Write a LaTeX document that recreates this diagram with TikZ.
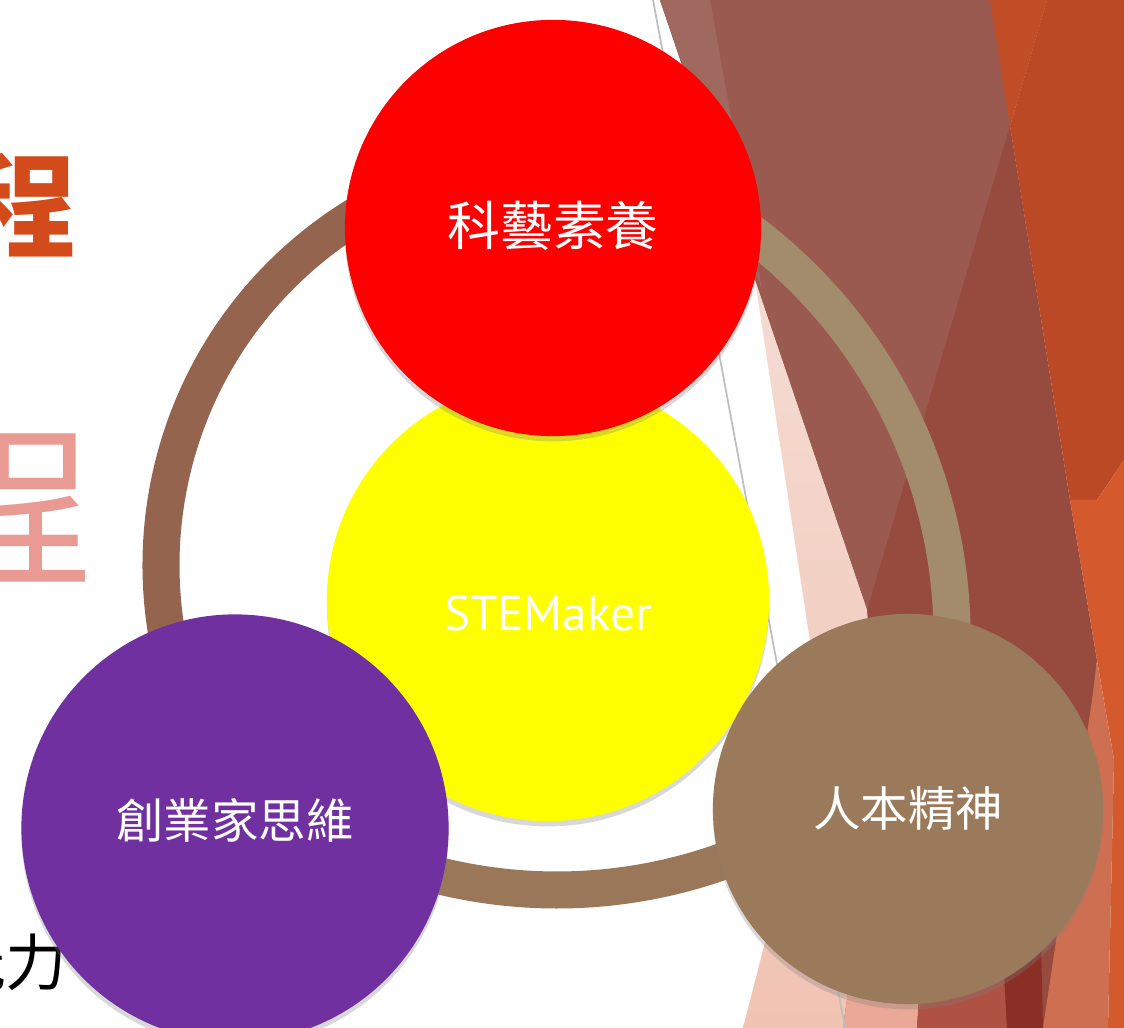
\documentclass[tikz,border=0pt]{standalone}
\usepackage{fontspec}
\setmainfont{PT Sans}
\newfontfamily\cjk{Noto Sans CJK TC}
\usetikzlibrary{shadows}

\definecolor{artsred}{HTML}{FF0000}
\definecolor{stemyellow}{HTML}{FFFF00}
\definecolor{venturepurple}{HTML}{7030A0}
\definecolor{humanebrown}{HTML}{9B795B}
\definecolor{ringleft}{HTML}{94644F}
\definecolor{ringright}{HTML}{A38C6B}
\definecolor{ringbottom}{HTML}{9A7759}
\definecolor{titleorange}{HTML}{D34A1B}
\definecolor{titlepink}{HTML}{E99A93}
\definecolor{facetmauve}{HTML}{9B5A4F}
\definecolor{facetmauvelt}{HTML}{A0695F}
\definecolor{facetmauvedk}{HTML}{964B3E}
\definecolor{facetorange}{HTML}{BB4925}
\definecolor{facetorangelt}{HTML}{C24E28}
\definecolor{facetorangebr}{HTML}{D45A2E}
\definecolor{facetsalmon}{HTML}{CE6F52}
\definecolor{facetpinktop}{HTML}{F5DBD2}
\definecolor{facetpinkbot}{HTML}{F1C3B3}
\definecolor{facetrose}{HTML}{EAA896}
\definecolor{facetbrick}{HTML}{AF5243}
\definecolor{facetdark}{HTML}{8A2F25}

\tikzset{
  bubble/.style={circle, inner sep=0pt, text=white,
    drop shadow={shadow xshift=0pt, shadow yshift=-1.5pt, opacity=.3}},
  ringarc/.style={line width=0.37cm},
  cjklabel/.style={font=\cjk\fontsize{13.5}{16}\selectfont},
}

\begin{document}
\begin{tikzpicture}[x=0.01cm, y=-0.01cm]
\useasboundingbox (0,0) rectangle (1124,1028);
\clip (0,0) rectangle (1124,1028);
\fill[white] (0,0) rectangle (1124,1028);

% facets on the right
\fill[facetmauvedk] (660,0) -- (990,0) -- (1070,500) -- (1097,660) -- (1092,717)
  -- (1050,1028) -- (843,1028) -- (867,610) -- cycle;
\fill[facetmauve] (660,0) -- (1047,0) -- (867,610) -- cycle;
\fill[facetmauvelt] (660,0) -- (710,0) -- (762,290) -- cycle;
\fill[facetorangelt] (990,0) -- (1047,0) -- (1010,126) -- cycle;
\fill[facetorange] (1010,126) -- (1047,0) -- (1124,0) -- (1124,460) -- (1097,500)
  -- (1070,500) -- cycle;
\fill[facetorangebr] (1070,500) -- (1097,500) -- (1124,460) -- (1124,1028)
  -- (1108,1028) -- (1114,760) -- (1097,660) -- cycle;
\fill[facetsalmon] (1092,700) -- (1097,660) -- (1114,760) -- (1108,1028)
  -- (1043,1028) -- cycle;
\shade[top color=facetpinktop, bottom color=facetpinkbot]
  (755,280) -- (867,610) -- (880,760) -- (843,1028) -- (743,1028) -- (822,720) -- cycle;
\fill[facetrose] (843,1028) -- (860,900) -- (925,900) -- (917,1028) -- cycle;
\fill[facetbrick] (917,1028) -- (925,900) -- (1000,900) -- (1007,1028) -- cycle;
\fill[facetdark] (1007,1028) -- (1000,900) -- (1040,900) -- (1043,1028) -- cycle;
\draw[black!25, line width=0.5pt] (653,0) -- (845,1028);

% cut-off text at the left edge
\node[anchor=east, inner sep=0pt, text=titleorange,
  font=\cjk\bfseries\fontsize{32}{32}\selectfont] (titleA) at (78,206) {程};
\node[anchor=east, inner sep=0pt, text=titlepink,
  font=\cjk\fontsize{50}{50}\selectfont] (titleB) at (94,507) {程};
\node[anchor=east, inner sep=0pt,
  font=\cjk\fontsize{17.5}{18}\selectfont] (bodyA) at (68,962) {能力};

% ring behind the circles
\coordinate (lc) at (571,565);
\coordinate (rc) at (445,637);
\coordinate (bc) at (557,396);
\draw[ringarc, ringleft] (lc) ++(140:410) arc[start angle=140, end angle=262, radius=410];
\draw[ringarc, ringright] (rc) ++(-62:507) arc[start angle=-62, end angle=28, radius=507];
\draw[ringarc, ringbottom] (bc) ++(64:494) arc[start angle=64, end angle=108, radius=494];

% circles
\node[bubble, fill=stemyellow, minimum size=4.42cm,
  text height=0.6cm, text depth=0pt] (stem) at (548,600)
  {\fontsize{14}{16}\selectfont STEMaker};
\node[bubble, fill=artsred, minimum size=4.16cm, text depth=0.1cm] (arts) at (553,228)
  {\cjk\fontsize{15}{18}\selectfont 科藝素養};
\node[bubble, fill=venturepurple, minimum size=4.27cm, cjklabel,
  text depth=0.2cm] (venture) at (235,828) {創業家思維};
\node[bubble, fill=humanebrown, minimum size=3.9cm, cjklabel] (humane) at (908,809)
  {人本精神};
\end{tikzpicture}
\end{document}
